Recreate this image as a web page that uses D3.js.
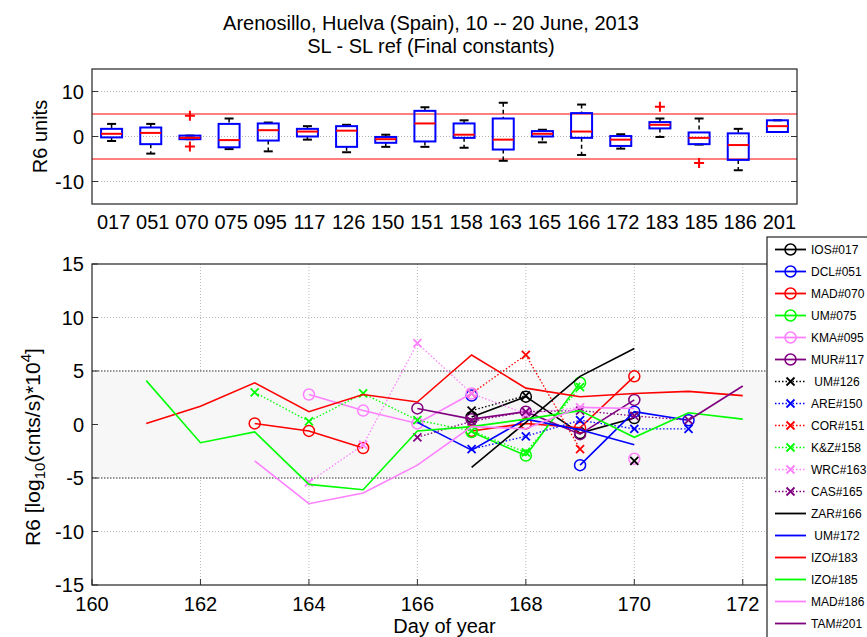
<!DOCTYPE html>
<html><head><meta charset="utf-8">
<script src="https://cdn.jsdelivr.net/npm/d3@7"></script>
<style>
body{margin:0;background:#fff;}
text{font-family:"Liberation Sans",Arial,Helvetica,sans-serif;fill:#000;}
</style>
</head><body>
<svg id="chart" width="867" height="637"></svg>
<script>
// ---------- Top panel (box plot) data ----------
const categories = ["017","051","070","075","095","117","126","150","151","158","163","165","166","172","183","185","186","201"];
const whiskerLow  = [-1.0,-3.8,-0.6,-2.8,-3.3,-0.7,-3.5,-2.3,-2.3,-2.5,-5.4,-1.3,-4.1,-2.7,-0.1,-1.8,-7.5, 1.0];
const quart1      = [-0.2,-1.7,-0.6,-2.4,-0.9, 0.0,-2.3,-1.4,-1.1,-0.3,-2.9, 0.0,-0.3,-2.1, 1.8,-1.7,-5.2, 1.0];
const medians     = [ 0.6, 0.8,-0.3,-0.8, 1.4, 1.1, 1.3,-0.6, 2.9, 0.4,-0.7, 0.6, 1.1,-0.7, 2.6,-0.3,-1.9, 2.3];
const quart3      = [ 1.7, 2.0, 0.2, 2.8, 2.9, 1.7, 2.3,-0.1, 5.7, 2.9, 4.0, 1.2, 5.2, 0.1, 3.2, 0.9, 0.7, 3.6];
const whiskerHigh = [ 2.8, 2.8, 0.2, 4.0, 3.1, 2.3, 2.6, 0.4, 6.5, 3.6, 7.5, 1.5, 7.1, 0.5, 4.0, 4.0, 1.7, 3.6];
const outlierCats   = ["070","070","183","185"];
const outlierValues = [4.6,-2.2,6.6,-5.9];
const topYTicks = [-10,0,10];
const refLimits = [-5,5];

// ---------- Bottom panel (time series) data ----------
const days = [161,162,163,164,165,166,167,168,169,170,171,172];
const stationNames = ["IOS#017","DCL#051","MAD#070","UM#075","KMA#095","MUR#117",
  " UM#126","ARE#150","COR#151","K&Z#158","WRC#163","CAS#165",
  "ZAR#166"," UM#172","IZO#183","IZO#185","MAD#186","TAM#201"];
const stationColors = ["#000000","#0000ff","#ff0000","#00ff00","#ff80ff","#800080",
  "#000000","#0000ff","#ff0000","#00ff00","#ff80ff","#800080",
  "#000000","#0000ff","#ff0000","#00ff00","#ff80ff","#800080"];
const stationMarkers = ["o","o","o","o","o","o","x","x","x","x","x","x","","","","","",""];
const stationDotted  = [false,false,false,false,false,false,true,true,true,true,true,true,false,false,false,false,false,false];
const _ = null;
const IOS017 = [_,_,_,_,_,_,0.7,2.6,-0.8,0.6,_,_];
const DCL051 = [_,_,_,_,_,_,2.7,_,-3.8,1.2,0.4,_];
const MAD070 = [_,_,0.1,-0.6,-2.2,_,-0.6,0.1,-0.3,4.5,_,_];
const UM075  = [_,_,_,_,_,_,-0.7,-2.9,3.9,_,_,_];
const KMA095 = [_,_,_,2.8,1.3,0.1,2.9,_,_,-3.2,_,_];
const MUR117 = [_,_,_,_,_,1.5,0.5,1.2,-0.9,2.3,_,_];
const UM126  = [_,_,_,_,_,_,1.3,2.7,_,-3.4,_,_];
const ARE150 = [_,_,_,_,_,_,-2.3,-1.1,0.4,-0.4,-0.4,_];
const COR151 = [_,_,_,_,_,_,2.9,6.5,-2.3,_,_,_];
const KZ158  = [_,_,3.0,0.3,2.9,0.4,-0.6,-2.6,3.5,_,_,_];
const WRC163 = [_,_,_,-5.4,-1.9,7.6,2.9,1.0,1.6,_,_,_];
const CAS165 = [_,_,_,_,_,-1.2,0.3,1.2,1.3,0.8,0.4,_];
const ZAR166 = [_,_,_,_,_,_,-4.0,0.2,4.5,7.1,_,_];
const UM172  = [_,_,_,_,_,0.2,-2.4,0.5,-0.5,-1.9,_,_];
const IZO183 = [0.1,1.7,3.9,1.2,2.8,2.1,6.5,3.4,2.6,2.9,3.1,2.7];
const IZO185 = [4.1,-1.7,-0.7,-5.6,-6.1,-0.6,-0.2,0.5,1.3,-1.2,1.1,0.5];
const MAD186 = [_,_,-3.4,-7.4,-6.4,-3.8,-0.2,-0.4,1.6,1.5,_,_];
const TAM201 = [_,_,_,_,_,_,_,_,_,_,0.4,3.6];
const stationValues = [IOS017,DCL051,MAD070,UM075,KMA095,MUR117,UM126,ARE150,COR151,KZ158,WRC163,CAS165,ZAR166,UM172,IZO183,IZO185,MAD186,TAM201];
const xTicks = [160,162,164,166,168,170,172];
const yTicks = [-15,-10,-5,0,5,10,15];

// ---------- Drawing ----------
const svg = d3.select("#chart");
const FS = 20;

svg.append("text").attr("x",431).attr("y",30).attr("text-anchor","middle").attr("font-size",FS)
  .text("Arenosillo, Huelva (Spain), 10 -- 20 June, 2013");
svg.append("text").attr("x",431).attr("y",53).attr("text-anchor","middle").attr("font-size",FS)
  .text("SL - SL ref (Final constants)");

// ===== top panel =====
const T = {l:92,r:797,t:69,b:204};
const tx = d3.scaleBand().domain(categories).range([T.l,T.r]);
const ty = d3.scaleLinear().domain([-15,15]).range([T.b,T.t]);
const topG = svg.append("g");
topG.append("rect").attr("x",T.l).attr("y",T.t).attr("width",T.r-T.l).attr("height",T.b-T.t).attr("fill","#fff");
topG.selectAll(".tgrid").data(topYTicks).join("line")
  .attr("x1",T.l).attr("x2",T.r).attr("y1",d=>ty(d)).attr("y2",d=>ty(d))
  .attr("stroke","#b0b0b0").attr("stroke-width",1).attr("stroke-dasharray","1,2");
topG.selectAll(".ref").data(refLimits).join("line")
  .attr("x1",T.l).attr("x2",T.r).attr("y1",d=>ty(d)).attr("y2",d=>ty(d))
  .attr("stroke","#ff0000").attr("stroke-width",1.2);
const bw = 21, cw = 9;
categories.forEach((c,i)=>{
  const cx = tx(c)+tx.bandwidth()/2;
  const g = topG.append("g");
  g.append("line").attr("x1",cx).attr("x2",cx).attr("y1",ty(whiskerHigh[i])).attr("y2",ty(quart3[i]))
    .attr("stroke","#000").attr("stroke-width",1.5).attr("stroke-dasharray","4,3");
  g.append("line").attr("x1",cx).attr("x2",cx).attr("y1",ty(quart1[i])).attr("y2",ty(whiskerLow[i]))
    .attr("stroke","#000").attr("stroke-width",1.5).attr("stroke-dasharray","4,3");
  [whiskerHigh[i],whiskerLow[i]].forEach(v=>{
    g.append("line").attr("x1",cx-cw/2).attr("x2",cx+cw/2).attr("y1",ty(v)).attr("y2",ty(v))
      .attr("stroke","#000").attr("stroke-width",2);
  });
  g.append("rect").attr("x",cx-bw/2).attr("y",ty(quart3[i])).attr("width",bw)
    .attr("height",Math.max(1,ty(quart1[i])-ty(quart3[i])))
    .attr("fill","none").attr("stroke","#0000ff").attr("stroke-width",2);
  g.append("line").attr("x1",cx-bw/2).attr("x2",cx+bw/2).attr("y1",ty(medians[i])).attr("y2",ty(medians[i]))
    .attr("stroke","#ff0000").attr("stroke-width",2);
});
outlierCats.forEach((c,i)=>{
  const cx = tx(c)+tx.bandwidth()/2, cy = ty(outlierValues[i]);
  topG.append("path").attr("d",`M${cx-5},${cy}H${cx+5}M${cx},${cy-5}V${cy+5}`)
    .attr("stroke","#ff0000").attr("stroke-width",2).attr("fill","none");
});
topYTicks.forEach(v=>{
  topG.append("line").attr("x1",T.l).attr("x2",T.l+6).attr("y1",ty(v)).attr("y2",ty(v)).attr("stroke","#333");
  topG.append("line").attr("x1",T.r-6).attr("x2",T.r).attr("y1",ty(v)).attr("y2",ty(v)).attr("stroke","#333");
  topG.append("text").attr("x",T.l-8).attr("y",ty(v)+7).attr("text-anchor","end").attr("font-size",FS).text(v);
});
topG.append("rect").attr("x",T.l).attr("y",T.t).attr("width",T.r-T.l).attr("height",T.b-T.t)
  .attr("fill","none").attr("stroke","#222").attr("stroke-width",1.2);
categories.forEach(c=>{
  topG.append("text").attr("x",tx(c)+tx.bandwidth()/2+2).attr("y",229).attr("text-anchor","middle")
    .attr("font-size",FS).text(c);
});
topG.append("text").attr("transform",`translate(47,${(T.t+T.b)/2}) rotate(-90)`).attr("text-anchor","middle")
  .attr("font-size",FS).text("R6 units");

// ===== bottom panel =====
const B = {l:92,r:797,t:264,b:585};
const bx = d3.scaleLinear().domain([160,173]).range([B.l,B.r]);
const by = d3.scaleLinear().domain([-15,15]).range([B.b,B.t]);
const botG = svg.append("g");
botG.append("rect").attr("x",B.l).attr("y",B.t).attr("width",B.r-B.l).attr("height",B.b-B.t).attr("fill","#fff");
xTicks.slice(1).forEach(d=>{
  botG.append("line").attr("x1",bx(d)).attr("x2",bx(d)).attr("y1",B.t).attr("y2",B.b)
    .attr("stroke","#b8b8b8").attr("stroke-dasharray","1,2");
});
yTicks.slice(1,-1).forEach(v=>{
  botG.append("line").attr("x1",B.l).attr("x2",B.r).attr("y1",by(v)).attr("y2",by(v))
    .attr("stroke","#b8b8b8").attr("stroke-dasharray","1,2");
});
botG.append("rect").attr("x",B.l).attr("y",by(refLimits[1])).attr("width",B.r-B.l)
  .attr("height",by(refLimits[0])-by(refLimits[1])).attr("fill","#f7f7f7");
refLimits.forEach(v=>{
  botG.append("line").attr("x1",B.l).attr("x2",B.r).attr("y1",by(v)).attr("y2",by(v))
    .attr("stroke","#777").attr("stroke-width",1.5).attr("stroke-dasharray","1.5,1.5");
});
const lineGen = d3.line().defined(d=>d.v!==null).x(d=>bx(d.d)).y(d=>by(d.v));
function drawMarker(g,type,x,y,color){
  if(type==="o"){
    g.append("circle").attr("cx",x).attr("cy",y).attr("r",5.5).attr("fill","none")
      .attr("stroke",color).attr("stroke-width",1.5);
  } else if(type==="x"){
    g.append("path").attr("d",`M${x-4},${y-4}L${x+4},${y+4}M${x-4},${y+4}L${x+4},${y-4}`)
      .attr("stroke",color).attr("stroke-width",1.8).attr("fill","none");
  }
}
stationValues.forEach((vals,i)=>{
  const pts = days.map((d,j)=>({d:d,v:vals[j]}));
  const g = botG.append("g");
  g.append("path").attr("d",lineGen(pts)).attr("fill","none").attr("stroke",stationColors[i])
    .attr("stroke-width",stationDotted[i]?1.3:1.6)
    .attr("stroke-dasharray",stationDotted[i]?"1.5,2":null);
  if(stationMarkers[i]){
    pts.filter(p=>p.v!==null).forEach(p=>drawMarker(g,stationMarkers[i],bx(p.d),by(p.v),stationColors[i]));
  }
});
yTicks.forEach(v=>{
  botG.append("line").attr("x1",B.l).attr("x2",B.l+6).attr("y1",by(v)).attr("y2",by(v)).attr("stroke","#333");
  botG.append("text").attr("x",B.l-8).attr("y",by(v)+7).attr("text-anchor","end").attr("font-size",FS).text(v);
});
xTicks.forEach(d=>{
  botG.append("line").attr("x1",bx(d)).attr("x2",bx(d)).attr("y1",B.b).attr("y2",B.b-6).attr("stroke","#333");
  botG.append("text").attr("x",bx(d)).attr("y",611).attr("text-anchor","middle").attr("font-size",FS).text(d);
});
botG.append("rect").attr("x",B.l).attr("y",B.t).attr("width",B.r-B.l).attr("height",B.b-B.t)
  .attr("fill","none").attr("stroke","#222").attr("stroke-width",1.2);
botG.append("text").attr("x",(B.l+B.r)/2).attr("y",633).attr("text-anchor","middle").attr("font-size",FS).text("Day of year");
const yl = botG.append("text").attr("transform",`translate(40,447) rotate(-90)`)
  .attr("text-anchor","middle").attr("font-size",21);
yl.append("tspan").text("R6 [log");
yl.append("tspan").attr("font-size",15).attr("dy",5).text("10");
yl.append("tspan").attr("dy",-5).text("(cnts/s)*10");
yl.append("tspan").attr("font-size",15).attr("dy",-9).text("4");
yl.append("tspan").attr("dy",9).text("]");

const L = svg.append("g");
L.append("rect").attr("x",767).attr("y",237).attr("width",110).attr("height",420)
  .attr("fill","#fff").attr("stroke","#222").attr("stroke-width",1.2);
stationNames.forEach((n,i)=>{
  const y = 249.5 + i*22;
  L.append("line").attr("x1",775).attr("x2",806).attr("y1",y).attr("y2",y)
    .attr("stroke",stationColors[i]).attr("stroke-width",stationDotted[i]?1.3:1.8)
    .attr("stroke-dasharray",stationDotted[i]?"1.5,2":null);
  if(stationMarkers[i]) drawMarker(L,stationMarkers[i],790.5,y,stationColors[i]);
  L.append("text").attr("x",811).attr("y",y+4.5).attr("font-size",12).style("white-space","pre").text(n);
});
</script>
</body></html>
